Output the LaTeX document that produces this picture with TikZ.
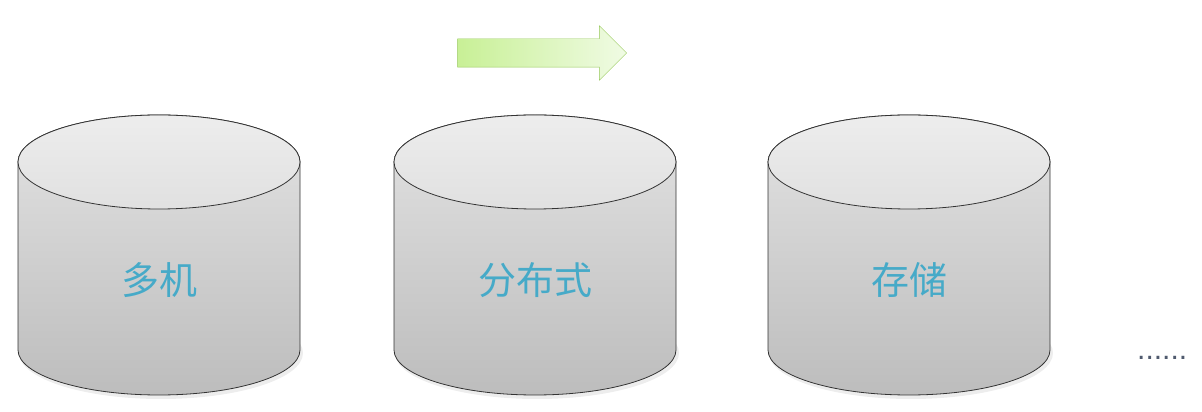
\documentclass[tikz,border=0pt]{standalone}
\usepackage{fontspec}
\newfontfamily\cjk{Noto Sans CJK SC}
\newfontfamily\dotfont{Liberation Sans}
\usetikzlibrary{shapes.arrows, positioning}
\definecolor{textblue}{RGB}{70,170,200}
\definecolor{leafgreen}{RGB}{150,200,90}
\definecolor{palegreen}{RGB}{200,240,150}
\definecolor{mistgreen}{RGB}{240,251,228}
\definecolor{dotgray}{RGB}{80,90,110}

\begin{document}
\begin{tikzpicture}[x=1pt, y=1pt]
\tikzstyle{cylbody} = [draw=black!80, line width=0.8pt, top color=black!11, bottom color=black!26]
\tikzstyle{cyltop} = [draw=black!80, line width=0.8pt, top color=black!7, bottom color=black!12]
\tikzstyle{cyllabel} = [text=textblue, font=\cjk\fontsize{38}{44}\selectfont]
\tikzstyle{flowarrow} = [single arrow, single arrow head extend=13pt, single arrow tip angle=90, minimum width=54pt, minimum height=169pt, inner xsep=0pt, inner ysep=14pt, draw=leafgreen, left color=palegreen, right color=mistgreen]

\useasboundingbox (0,0) rectangle (1202,412);

% three storage drums
\foreach \cx/\name/\word in {159/multi/多机, 535/distrib/分布式, 909/storage/存储} {
  \fill[black, opacity=0.07] (\cx+2,59) ellipse [x radius=142, y radius=46];
  \path[cylbody] (\cx-141,250) -- (\cx-141,62)
    arc[start angle=180, end angle=360, x radius=141, y radius=45]
    -- (\cx+141,250)
    arc[start angle=0, end angle=180, x radius=141, y radius=47] -- cycle;
  \path[cyltop] (\cx,250) ellipse [x radius=141, y radius=47];
  \node (\name) [cyllabel] at (\cx,132) {\word};
}

\node (trend) [flowarrow] at (535,359) {};

\node (more) [anchor=base west, inner sep=0pt, text=dotgray, font=\dotfont\fontsize{30}{32}\selectfont] at (1137,52) {......};

\end{tikzpicture}
\end{document}
